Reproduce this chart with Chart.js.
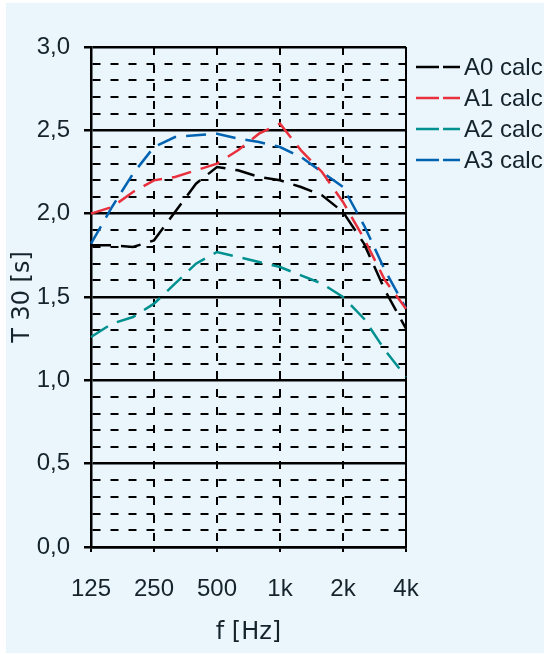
<!DOCTYPE html>
<html>
<head>
<meta charset="utf-8">
<script src="https://cdn.jsdelivr.net/npm/chart.js@4/dist/chart.umd.min.js"></script>
<style>
  html, body { margin: 0; padding: 0; background: #fff; }
  canvas { display: block; }
</style>
</head>
<body>
<canvas id="t30Chart" width="544" height="654"></canvas>
<script>
// 1/3 octave bands, only the octave ones get a label
const bands = ['125', '160', '200', '250', '315', '400', '500', '630', '800',
               '1k', '1.25k', '1.6k', '2k', '2.5k', '3.15k', '4k'];
const octaveLabels = ['125', '250', '500', '1k', '2k', '4k'];

const seriesNames = ['A0 calc', 'A1 calc', 'A2 calc', 'A3 calc'];
const seriesColors = ['#000000', '#e8313c', '#00908f', '#0062b0'];

// T30 in seconds
const a0Calc = [1.81, 1.81, 1.80, 1.84, 2.01, 2.18, 2.28, 2.26, 2.22, 2.20, 2.16, 2.11, 2.01, 1.82, 1.54, 1.31];
const a1Calc = [2.00, 2.04, 2.13, 2.20, 2.22, 2.26, 2.30, 2.38, 2.48, 2.54, 2.38, 2.25, 2.07, 1.85, 1.60, 1.43];
const a2Calc = [1.26, 1.34, 1.38, 1.46, 1.58, 1.70, 1.77, 1.74, 1.71, 1.68, 1.63, 1.58, 1.50, 1.37, 1.18, 1.02];
const a3Calc = [1.82, 2.04, 2.24, 2.40, 2.46, 2.47, 2.48, 2.45, 2.43, 2.40, 2.34, 2.25, 2.16, 1.93, 1.66, 1.43];
const seriesValues = [a0Calc, a1Calc, a2Calc, a3Calc];

const textColor = '#15232b';
const fontFamily = '"Liberation Sans", Arial, sans-serif';
const titleFamily = '"DejaVu Sans", sans-serif';

const isMajor = v => Math.abs(v * 2 - Math.round(v * 2)) < 1e-6;
const isOctave = i => i % 3 === 0;

// page background: thin white rim, light blue panel
const backgroundPlugin = {
    id: 'panelBg',
    beforeDraw: (chart) => {
        const ctx = chart.ctx;
        ctx.save();
        ctx.fillStyle = '#ffffff';
        ctx.fillRect(0, 0, chart.width, chart.height);
        ctx.fillStyle = '#eaf6fc';
        ctx.fillRect(6, 3, chart.width - 6, chart.height - 4);
        ctx.restore();
    }
};

// legend to the right of the plot, two-dash line sample + name
const sideLegend = {
    id: 'sideLegend',
    afterDraw: (chart) => {
        const ctx = chart.ctx;
        const area = chart.chartArea;
        ctx.save();
        chart.data.datasets.forEach((ds, i) => {
            const y = area.top + 20 + i * 31;
            ctx.strokeStyle = ds.borderColor;
            ctx.lineWidth = 2.5;
            ctx.setLineDash([23, 4]);
            ctx.beginPath();
            ctx.moveTo(area.right + 10, y);
            ctx.lineTo(area.right + 54, y);
            ctx.stroke();
            ctx.setLineDash([]);
            ctx.fillStyle = textColor;
            ctx.font = '24px ' + fontFamily;
            ctx.textBaseline = 'middle';
            ctx.textAlign = 'left';
            ctx.fillText(ds.label, area.right + 58, y + 1);
        });
        ctx.restore();
    }
};

const datasets = seriesNames.map((name, i) => ({
    label: name,
    data: seriesValues[i],
    borderColor: seriesColors[i],
    backgroundColor: seriesColors[i],
    borderWidth: 2.5,
    borderDash: [20, 10],
    pointRadius: 0,
    tension: 0,
    fill: false
}));

const ctx = document.getElementById('t30Chart').getContext('2d');
new Chart(ctx, {
    type: 'line',
    data: { labels: bands, datasets: datasets },
    options: {
        responsive: false,
        animation: false,
        devicePixelRatio: 1,
        layout: { padding: { left: 0, top: 47, right: 138, bottom: 0 } },
        plugins: {
            legend: { display: false },
            tooltip: { enabled: false }
        },
        scales: {
            x: {
                type: 'category',
                offset: false,
                afterFit: (scale) => { scale.height = 107; },
                grid: {
                    color: (c) => isOctave(c.index) ? '#000' : 'transparent',
                    lineWidth: 2,
                    tickLength: 5,
                    tickColor: (c) => isOctave(c.index) ? '#000' : 'transparent'
                },
                border: {
                    display: true,
                    color: '#000',
                    width: 2.5,
                    dash: (c) => (c.index === undefined || c.index === 0 || c.index === bands.length - 1) ? [] : [8, 10]
                },
                ticks: {
                    autoSkip: false,
                    maxRotation: 0,
                    padding: 23,
                    color: textColor,
                    font: { family: fontFamily, size: 24 },
                    callback: function (val, i) {
                        const lab = bands[i];
                        return octaveLabels.includes(lab) ? lab : '';
                    }
                },
                title: {
                    display: true,
                    text: 'f [Hz]',
                    color: textColor,
                    font: { family: titleFamily, size: 24 },
                    padding: { top: 0, bottom: 7 }
                }
            },
            y: {
                min: 0,
                max: 3,
                afterFit: (scale) => { scale.width = 91; },
                grid: {
                    color: '#000',
                    lineWidth: (c) => (c.tick && isMajor(c.tick.value)) ? 2.5 : 2,
                    tickLength: 7,
                    tickColor: (c) => (c.tick && isMajor(c.tick.value)) ? '#000' : 'transparent'
                },
                border: {
                    display: true,
                    color: '#000',
                    width: 2.5,
                    dash: (c) => (!c.tick || isMajor(c.tick.value)) ? [] : [8, 10]
                },
                ticks: {
                    stepSize: 0.1,
                    autoSkip: false,
                    padding: 14,
                    color: textColor,
                    font: { family: fontFamily, size: 24 },
                    callback: (v) => isMajor(v) ? v.toFixed(1).replace('.', ',') : ''
                },
                title: {
                    display: true,
                    text: 'T 30 [s]',
                    color: textColor,
                    font: { family: titleFamily, size: 24 },
                    padding: { top: 8, bottom: 0 }
                }
            }
        }
    },
    plugins: [backgroundPlugin, sideLegend]
});
</script>
</body>
</html>
